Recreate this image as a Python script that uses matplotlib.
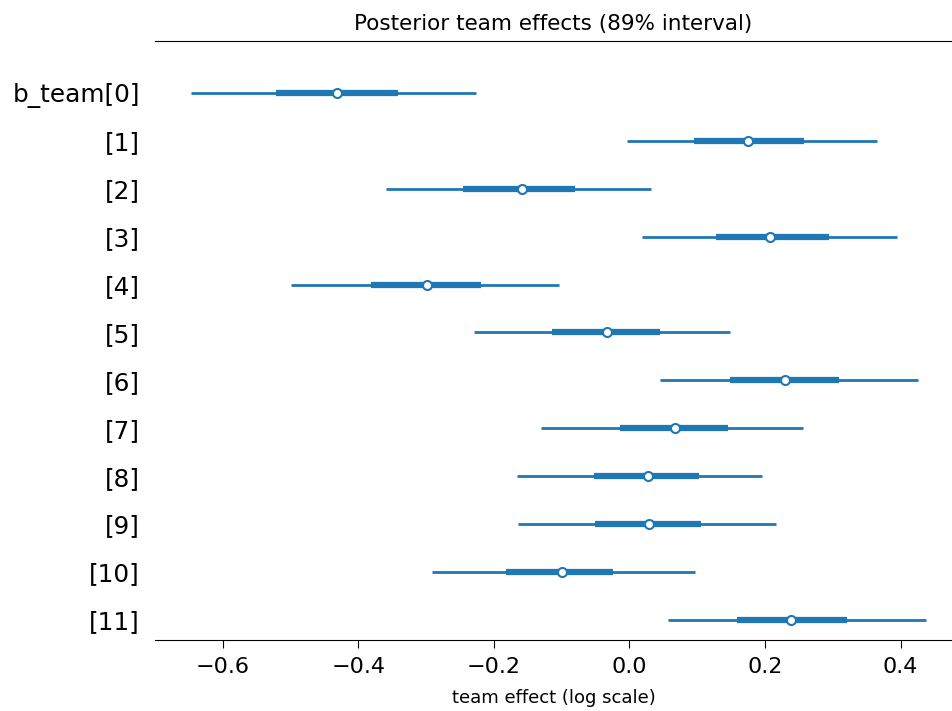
import matplotlib.pyplot as plt
import numpy as np

labels = ["b_team[0]", "[1]", "[2]", "[3]", "[4]", "[5]",
          "[6]", "[7]", "[8]", "[9]", "[10]", "[11]"]

# 89% HDI bounds, interquartile range and posterior median per team
hdi_low = [-0.647, -0.004, -0.359, 0.018, -0.500, -0.230,
           0.045, -0.131, -0.166, -0.164, -0.291, 0.057]
q25 = [-0.521, 0.095, -0.246, 0.128, -0.382, -0.115,
       0.149, -0.014, -0.053, -0.051, -0.182, 0.159]
median = [-0.432, 0.175, -0.158, 0.207, -0.299, -0.033,
          0.229, 0.067, 0.028, 0.029, -0.100, 0.238]
q75 = [-0.341, 0.257, -0.080, 0.294, -0.219, 0.045,
       0.309, 0.145, 0.103, 0.105, -0.025, 0.321]
hdi_high = [-0.226, 0.365, 0.032, 0.395, -0.104, 0.148,
            0.426, 0.256, 0.195, 0.216, 0.097, 0.438]

COLOR = "C0"


def main() -> None:
    fig = plt.figure(figsize=(9.52, 7.11), dpi=100)
    ax = fig.add_axes([0.163, 0.10, 0.837, 0.8423])

    y = np.arange(len(labels))
    ax.hlines(y, hdi_low, hdi_high, color=COLOR, linewidth=2.0)
    ax.hlines(y, q25, q75, color=COLOR, linewidth=4.5)
    ax.plot(median, y, "o", markersize=6.5, markerfacecolor="white",
            markeredgecolor=COLOR, markeredgewidth=1.5, linestyle="none")

    ax.set_ylim(len(labels) - 1 + 0.42, -1.085)
    ax.set_xlim(-0.70, 0.476)
    ax.set_yticks(y)
    ax.set_yticklabels(labels, fontsize=17.8)
    ax.tick_params(axis="y", length=0, pad=11)
    ax.tick_params(axis="x", labelsize=16, length=6, pad=6)

    ax.spines["left"].set_visible(False)
    ax.spines["right"].set_visible(False)

    ax.set_title("Posterior team effects (89% interval)", fontsize=15.5, pad=8)
    ax.set_xlabel("team effect (log scale)", fontsize=13, labelpad=9)

    fig.savefig("out.png", dpi=100)
    plt.close(fig)


if __name__ == "__main__":
    main()
